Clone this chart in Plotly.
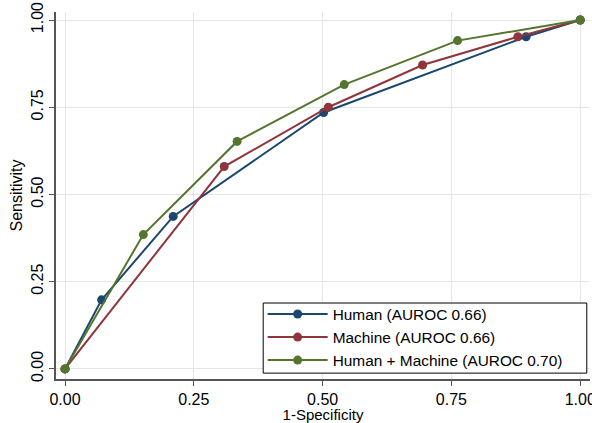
import plotly.graph_objects as go

human_x = [0.0, 0.071, 0.21, 0.502, 0.895, 1.0]
human_y = [0.0, 0.198, 0.437, 0.735, 0.952, 1.0]
machine_x = [0.0, 0.309, 0.511, 0.694, 0.879, 1.0]
machine_y = [0.0, 0.580, 0.750, 0.871, 0.952, 1.0]
combo_x = [0.0, 0.152, 0.334, 0.542, 0.762, 1.0]
combo_y = [0.0, 0.385, 0.652, 0.815, 0.941, 1.0]

names = ["Human (AUROC 0.66)", "Machine (AUROC 0.66)", "Human + Machine (AUROC 0.70)"]
colors = ["#1a476f", "#90353b", "#55752f"]
tick_vals = [0, 0.25, 0.5, 0.75, 1.0]
tick_text = ["0.00", "0.25", "0.50", "0.75", "1.00"]

fig = go.Figure()
for xs, ys, nm, c in zip([human_x, machine_x, combo_x], [human_y, machine_y, combo_y], names, colors):
    fig.add_trace(go.Scatter(x=xs, y=ys, mode="lines+markers", name=nm,
                             line=dict(color=c, width=2), marker=dict(color=c, size=9)))

# legend frame (layout decoration)
fig.add_shape(type="rect", xref="paper", yref="paper",
              x0=0.388, x1=0.994, y0=0.016, y1=0.207,
              line=dict(color="black", width=1), fillcolor="white", layer="above")

fig.update_layout(
    width=592, height=423,
    margin=dict(l=56, r=2, t=12, b=44),
    paper_bgcolor="white", plot_bgcolor="white",
    font=dict(family="Liberation Sans, Arial, sans-serif", size=15, color="black"),
    legend=dict(x=0.387, y=0.004, xanchor="left", yanchor="bottom",
                borderwidth=0, bgcolor="rgba(0,0,0,0)",
                font=dict(size=15.4), tracegroupgap=0, itemwidth=60),
)
fig.update_xaxes(range=[-0.0175, 1.019], tickvals=tick_vals, ticktext=tick_text,
                 showgrid=True, gridcolor="#e6e6e6", gridwidth=1, zeroline=False,
                 showline=True, linecolor="#555555", linewidth=1.5,
                 ticks="outside", ticklen=5, tickcolor="#555555",
                 tickfont=dict(size=16), automargin=False, ticklabeloverflow="allow",
                 title=dict(text="1-Specificity", standoff=0, font=dict(size=15)))
fig.update_yaxes(range=[-0.029, 1.023], tickvals=tick_vals, ticktext=tick_text,
                 tickangle=-90,
                 showgrid=True, gridcolor="#e6e6e6", gridwidth=1, zeroline=False,
                 showline=True, linecolor="#555555", linewidth=1.5,
                 ticks="outside", ticklen=5, tickcolor="#555555",
                 tickfont=dict(size=16), automargin=False, ticklabeloverflow="allow",
                 title=dict(text="Sensitivity", standoff=2, font=dict(size=16)))

fig.write_html("out.html", config={"displayModeBar": False},
               post_script="document.body.style.margin='0';document.body.style.overflow='hidden';")
